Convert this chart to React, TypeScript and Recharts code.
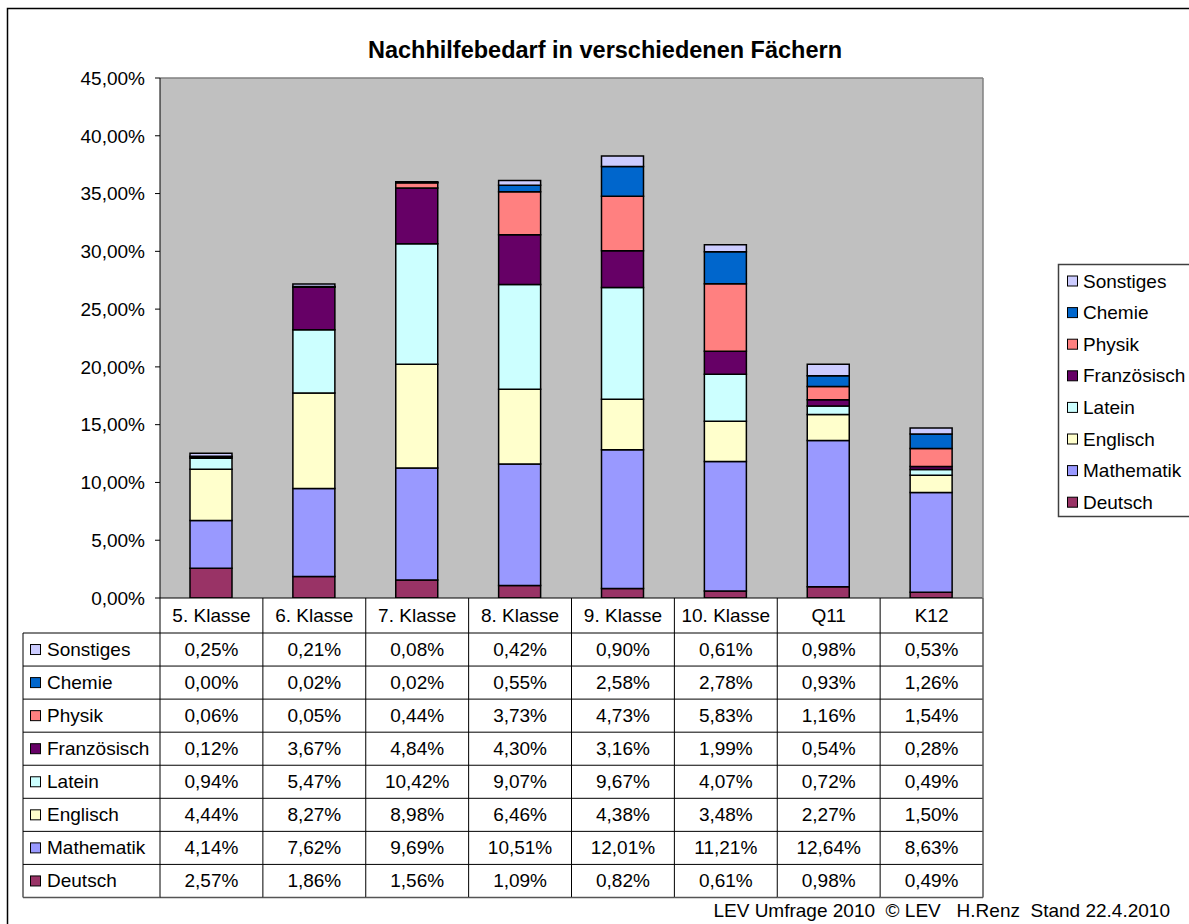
import React from "react";
import { BarChart, Bar, XAxis, YAxis, CartesianGrid, ReferenceLine } from "recharts";

const categories = ["5. Klasse", "6. Klasse", "7. Klasse", "8. Klasse", "9. Klasse", "10. Klasse", "Q11", "K12"];

const deutsch = [2.57, 1.86, 1.56, 1.09, 0.82, 0.61, 0.98, 0.49];
const mathematik = [4.14, 7.62, 9.69, 10.51, 12.01, 11.21, 12.64, 8.63];
const englisch = [4.44, 8.27, 8.98, 6.46, 4.38, 3.48, 2.27, 1.5];
const latein = [0.94, 5.47, 10.42, 9.07, 9.67, 4.07, 0.72, 0.49];
const franzoesisch = [0.12, 3.67, 4.84, 4.3, 3.16, 1.99, 0.54, 0.28];
const physik = [0.06, 0.05, 0.44, 3.73, 4.73, 5.83, 1.16, 1.54];
const chemie = [0.0, 0.02, 0.02, 0.55, 2.58, 2.78, 0.93, 1.26];
const sonstiges = [0.25, 0.21, 0.08, 0.42, 0.9, 0.61, 0.98, 0.53];

const seriesNames = ["Deutsch", "Mathematik", "Englisch", "Latein", "Französisch", "Physik", "Chemie", "Sonstiges"];
const seriesValues = [deutsch, mathematik, englisch, latein, franzoesisch, physik, chemie, sonstiges];
const seriesColors = ["#993366", "#9999FF", "#FFFFCC", "#CCFFFF", "#660066", "#FF8080", "#0066CC", "#CCCCFF"];

const yTicks = [0, 5, 10, 15, 20, 25, 30, 35, 40, 45];

const title = "Nachhilfebedarf in verschiedenen Fächern";
const footer = "LEV Umfrage 2010\u00a0\u00a0© LEV\u00a0\u00a0\u00a0H.Renz\u00a0\u00a0Stand 22.4.2010";

const data = categories.map((c, i) => {
  const row: Record<string, any> = { name: c };
  seriesNames.forEach((s, k) => {
    row[s] = seriesValues[k][i];
  });
  return row;
});

const FONT = "'Liberation Sans', Arial, sans-serif";
const fmt = (v: number) => v.toFixed(2).replace(".", ",") + "%";

const W = 1189;
const H = 924;
const PLOT_LEFT = 160;
const PLOT_RIGHT = 983;
const PLOT_TOP = 78;
const PLOT_BOTTOM = 598;
const COL_W = (PLOT_RIGHT - PLOT_LEFT) / categories.length;
const HEADER_BOTTOM = 633;
const ROW_H = 33.06;
const TABLE_LEFT = 23;
const TABLE_BOTTOM = HEADER_BOTTOM + ROW_H * seriesNames.length;
const FS = 19;

const tableRows = [...seriesNames.keys()].reverse();

function TableTick(props: any) {
  const { x, payload } = props;
  const i = categories.indexOf(payload.value);
  const left = x - COL_W / 2;
  const right = x + COL_W / 2;
  const els: any[] = [];
  els.push(
    <text key="h" x={x} y={(PLOT_BOTTOM + HEADER_BOTTOM) / 2} textAnchor="middle" dominantBaseline="central" fontSize={FS} fontFamily={FONT} fill="#000">
      {payload.value}
    </text>
  );
  tableRows.forEach((k, r) => {
    const cy = HEADER_BOTTOM + ROW_H * (r + 0.5);
    els.push(
      <text key={"v" + r} x={x} y={cy} textAnchor="middle" dominantBaseline="central" fontSize={FS} fontFamily={FONT} fill="#000">
        {fmt(seriesValues[k][i])}
      </text>
    );
    els.push(<line key={"hl" + r} x1={left} x2={right} y1={HEADER_BOTTOM + ROW_H * r} y2={HEADER_BOTTOM + ROW_H * r} stroke="#000" strokeWidth={1} />);
  });
  els.push(<line key="bl" x1={left} x2={right} y1={TABLE_BOTTOM} y2={TABLE_BOTTOM} stroke="#555" strokeWidth={1.5} />);
  const isLast = i === categories.length - 1;
  els.push(<line key="vr" x1={right} x2={right} y1={PLOT_BOTTOM} y2={TABLE_BOTTOM} stroke={isLast ? "#555" : "#000"} strokeWidth={isLast ? 1.5 : 1} />);
  if (isLast) {
    els.push(<line key="pr" x1={right} x2={right} y1={PLOT_TOP} y2={PLOT_BOTTOM} stroke="#808080" strokeWidth={1.5} />);
  }
  if (i === 0) {
    els.push(<line key="vl" x1={left} x2={left} y1={PLOT_BOTTOM} y2={TABLE_BOTTOM} stroke="#000" strokeWidth={1} />);
    els.push(<line key="ll" x1={TABLE_LEFT} x2={TABLE_LEFT} y1={HEADER_BOTTOM} y2={TABLE_BOTTOM} stroke="#000" strokeWidth={1} />);
    els.push(<line key="lb" x1={TABLE_LEFT} x2={left} y1={TABLE_BOTTOM} y2={TABLE_BOTTOM} stroke="#555" strokeWidth={1.5} />);
    tableRows.forEach((k, r) => {
      const cy = HEADER_BOTTOM + ROW_H * (r + 0.5);
      els.push(<line key={"lh" + r} x1={TABLE_LEFT} x2={left} y1={HEADER_BOTTOM + ROW_H * r} y2={HEADER_BOTTOM + ROW_H * r} stroke="#000" strokeWidth={1} />);
      els.push(<rect key={"sq" + r} x={30.5} y={cy - 5} width={10} height={10} fill={seriesColors[k]} stroke="#000" strokeWidth={1} />);
      els.push(
        <text key={"ln" + r} x={47} y={cy} dominantBaseline="central" fontSize={FS} fontFamily={FONT} fill="#000">
          {seriesNames[k]}
        </text>
      );
    });
  }
  return <g>{els}</g>;
}

export default function App() {
  return (
    <div style={{ position: "absolute", left: 0, top: 0, width: W, height: H, overflow: "hidden", background: "#fff" }}>
      <BarChart width={W} height={H} data={data} margin={{ top: PLOT_TOP, right: W - PLOT_RIGHT, bottom: 0, left: 0 }} barCategoryGap={0}>
        <CartesianGrid fill="#C0C0C0" fillOpacity={1} horizontal={false} vertical={false} />
        <ReferenceLine y={45} stroke="#808080" strokeWidth={1.5} />
        <XAxis
          dataKey="name"
          height={H - PLOT_BOTTOM}
          axisLine={{ stroke: "#000", strokeWidth: 1 }}
          tickLine={false}
          interval={0}
          tick={<TableTick />}
        />
        <YAxis
          width={PLOT_LEFT}
          domain={[0, 45]}
          ticks={yTicks}
          tickFormatter={fmt}
          axisLine={{ stroke: "#000", strokeWidth: 1 }}
          tickLine={{ stroke: "#000" }}
          tickSize={5}
          tickMargin={10}
          tick={{ fontSize: FS, fontFamily: FONT, fill: "#000" }}
          allowDataOverflow
        />
        {seriesNames.map((s, k) => (
          <Bar key={s} dataKey={s} stackId="a" fill={seriesColors[k]} stroke="#000" strokeWidth={1.5} barSize={42} isAnimationActive={false} />
        ))}
      </BarChart>
      <svg width={W} height={H} style={{ position: "absolute", left: 0, top: 0, pointerEvents: "none" }}>
        <rect x={7.5} y={8.5} width={1300} height={1000} fill="none" stroke="#000" strokeWidth={1.5} />
        <text x={605} y={58} textAnchor="middle" fontSize={23.5} fontWeight="bold" fontFamily={FONT} fill="#000">
          {title}
        </text>
        <text x={1170} y={917} textAnchor="end" fontSize={19} fontFamily={FONT} fill="#000">
          {footer}
        </text>
        <rect x={1058.5} y={264.5} width={200} height={252} fill="#fff" stroke="#404040" strokeWidth={1.5} />
        {[...seriesNames.keys()].reverse().map((k, r) => {
          const cy = 281 + 31.6 * r;
          return (
            <g key={k}>
              <rect x={1067.5} y={cy - 5} width={10} height={10} fill={seriesColors[k]} stroke="#000" strokeWidth={1} />
              <text x={1083} y={cy} dominantBaseline="central" fontSize={FS} fontFamily={FONT} fill="#000">
                {seriesNames[k]}
              </text>
            </g>
          );
        })}
      </svg>
    </div>
  );
}
